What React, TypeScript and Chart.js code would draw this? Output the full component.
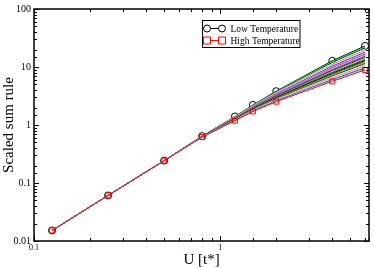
import React, { useEffect, useRef } from "react";
import { Chart, registerables } from "chart.js";

Chart.register(...registerables);

// Interaction strength U [t*]
const U = [0.125, 0.25, 0.5, 0.8, 1.2, 1.5, 2, 4, 6];
// values shared by every temperature (small U)
const sharedSmallU = [0.0152, 0.061, 0.243];
// values per temperature (index 0 = low temperature, last = high temperature)
const sumAtU08 = [0.643, 0.642, 0.641, 0.64, 0.639, 0.638, 0.637, 0.636, 0.635, 0.634, 0.633, 0.632, 0.631, 0.63, 0.629, 0.628, 0.627, 0.626, 0.625, 0.624, 0.623, 0.622, 0.621, 0.62];
const sumAtU12 = [1.4, 1.39, 1.38, 1.37, 1.36, 1.35, 1.34, 1.33, 1.32, 1.31, 1.3, 1.29, 1.28, 1.275, 1.265, 1.255, 1.245, 1.235, 1.225, 1.215, 1.21, 1.2, 1.195, 1.19];
const sumAtU15 = [2.22, 2.195, 2.17, 2.146, 2.122, 2.098, 2.074, 2.05, 2.027, 2.004, 1.982, 1.96, 1.937, 1.915, 1.894, 1.872, 1.851, 1.83, 1.81, 1.79, 1.77, 1.75, 1.73, 1.71];
const sumAtU2 = [3.83, 3.76, 3.69, 3.63, 3.56, 3.5, 3.44, 3.37, 3.31, 3.25, 3.2, 3.14, 3.08, 3.03, 2.97, 2.92, 2.87, 2.82, 2.77, 2.72, 2.67, 2.62, 2.58, 2.53];
const sumAtU4 = [12.8, 12.35, 11.92, 11.51, 11.11, 10.72, 10.34, 9.98, 9.64, 9.3, 8.97, 8.66, 8.36, 8.07, 7.79, 7.51, 7.25, 7.0, 6.75, 6.52, 6.29, 6.07, 5.86, 5.65];
const sumAtU6 = [23.1, 22.16, 21.26, 20.4, 19.57, 18.78, 18.01, 17.28, 16.58, 15.91, 15.26, 14.64, 14.05, 13.48, 12.93, 12.41, 11.9, 11.42, 10.96, 10.51, 10.08, 9.68, 9.28, 8.9];

const yTickLabels = ["0.01", "0.1", "1", "10", "100"];
const xTickLabels = ["0.1", "1"];
const legendLabels = ["Low Temperature", "High Temperature"];

const palette = [
  "#00ff00", "#0000ff", "#ffff00", "#bc8f8f", "#dcdcdc", "#9400d3", "#00ffff", "#ff00ff",
  "#ffa500", "#7221bc", "#670748", "#40e0d0", "#008b00", "#000000", "#ff0000",
];

const FONT = "'Liberation Serif', 'Times New Roman', serif";

function isDecade(v: number) {
  const l = Math.log10(v);
  return Math.abs(l - Math.round(l)) < 1e-6;
}

const ticksPlugin = {
  id: "insideTicks",
  afterDraw(chart: any) {
    const { ctx, chartArea: a } = chart;
    const xs = chart.scales.x;
    const ys = chart.scales.y;
    ctx.save();
    ctx.strokeStyle = "#000";
    ctx.lineWidth = 1;
    ctx.beginPath();
    xs.ticks.forEach((t: any) => {
      if (t.value > xs.max + 1e-9 || t.value < xs.min - 1e-9) return;
      const x = Math.round(xs.getPixelForValue(t.value)) + 0.5;
      const len = isDecade(t.value) ? 5 : 3;
      ctx.moveTo(x, a.bottom);
      ctx.lineTo(x, a.bottom - len);
      ctx.moveTo(x, a.top);
      ctx.lineTo(x, a.top + len);
    });
    ys.ticks.forEach((t: any) => {
      if (t.value > ys.max * 1.0001 || t.value < ys.min * 0.9999) return;
      const y = Math.round(ys.getPixelForValue(t.value)) + 0.5;
      const len = isDecade(t.value) ? 5 : 3;
      ctx.moveTo(a.left, y);
      ctx.lineTo(a.left + len, y);
      ctx.moveTo(a.right, y);
      ctx.lineTo(a.right - len, y);
    });
    ctx.stroke();
    ctx.lineWidth = 1.5;
    ctx.strokeRect(a.left, a.top, a.right - a.left, a.bottom - a.top);

    // legend box
    const bx = 202.5, by = 20.5, bw = 97.5, bh = 27;
    ctx.lineWidth = 1;
    ctx.fillStyle = "#fff";
    ctx.fillRect(bx, by, bw, bh);
    ctx.strokeStyle = "#000";
    ctx.strokeRect(bx, by, bw, bh);
    const rows = [
      { y: 28, color: "#000", shape: "circle", label: chart.data.datasets[0].label },
      { y: 40, color: "#ff0000", shape: "rect", label: chart.data.datasets[chart.data.datasets.length - 1].label },
    ];
    rows.forEach((r) => {
      ctx.strokeStyle = r.color;
      ctx.lineWidth = 1;
      ctx.beginPath();
      ctx.moveTo(207, r.y + 0.5);
      ctx.lineTo(222, r.y + 0.5);
      ctx.stroke();
      [207, 222].forEach((cx) => {
        ctx.beginPath();
        if (r.shape === "circle") {
          ctx.arc(cx, r.y + 0.5, 3.5, 0, Math.PI * 2);
        } else {
          ctx.rect(cx - 3.5, r.y - 3, 7, 7);
        }
        ctx.fillStyle = "#fff";
        ctx.fill();
        ctx.stroke();
      });
      ctx.fillStyle = "#000";
      ctx.font = `9.5px ${FONT}`;
      ctx.textAlign = "left";
      ctx.textBaseline = "middle";
      ctx.fillText(r.label, 230.5, r.y + 1);
    });
    ctx.restore();
  },
};

export default function App() {
  const ref = useRef<HTMLCanvasElement>(null);
  useEffect(() => {
    if (!ref.current) return;
    const n = sumAtU6.length;
    const datasets: any[] = [];
    for (let i = 0; i < n; i++) {
      const values = [...sharedSmallU, sumAtU08[i], sumAtU12[i], sumAtU15[i], sumAtU2[i], sumAtU4[i], sumAtU6[i]];
      const isLow = i === 0;
      const isHigh = i === n - 1;
      const color = isLow ? "#000000" : isHigh ? "#ff0000" : palette[(i - 1) % palette.length];
      datasets.push({
        label: isLow ? legendLabels[0] : isHigh ? legendLabels[1] : `T${i}`,
        data: U.map((u, k) => ({ x: u, y: values[k] })),
        order: n - i,
        borderColor: color,
        backgroundColor: "rgba(0,0,0,0)",
        borderWidth: 1,
        pointRadius: isLow || isHigh ? 3.5 : 0,
        pointStyle: isHigh ? "rect" : "circle",
        pointBorderColor: color,
        pointBackgroundColor: "rgba(0,0,0,0)",
        pointBorderWidth: 1,
        tension: 0,
      });
    }
    const chart = new Chart(ref.current, {
      type: "line",
      data: { datasets },
      options: {
        animation: false,
        responsive: false,
        maintainAspectRatio: false,
        layout: { padding: { top: 5, right: 2, left: 0, bottom: 0 } },
        plugins: { legend: { display: false }, tooltip: { enabled: false } },
        scales: {
          x: {
            type: "logarithmic",
            min: 0.1,
            max: 6.3,
            grid: { display: false, drawTicks: false },
            border: { display: false },
            afterFit: (s: any) => { s.height = 27; },
            ticks: {
              autoSkip: false,
              maxRotation: 0,
              padding: 2,
              color: "#000",
              font: { family: FONT, size: 8 },
              callback: (v: any) => {
                const lbl = xTickLabels.find((l) => Math.abs(parseFloat(l) - Number(v)) < 1e-9);
                return lbl ?? "";
              },
            },
            title: {
              display: true,
              text: "U [t*]",
              color: "#000",
              font: { family: FONT, size: 15 },
              padding: { top: 0, bottom: -1 },
            },
          },
          y: {
            type: "logarithmic",
            min: 0.01,
            max: 100,
            grid: { display: false, drawTicks: false },
            border: { display: false },
            afterFit: (s: any) => { s.width = 34; },
            ticks: {
              autoSkip: false,
              padding: 3,
              color: "#000",
              font: { family: FONT, size: 10 },
              callback: (v: any) => {
                const lbl = yTickLabels.find((l) => Math.abs(parseFloat(l) - Number(v)) < 1e-9 * Math.max(1, Number(v)));
                return lbl ?? "";
              },
            },
            title: {
              display: true,
              text: "Scaled sum rule",
              color: "#000",
              font: { family: FONT, size: 15 },
              padding: { top: 0, bottom: 0 },
            },
          },
        },
      },
      plugins: [ticksPlugin],
    });
    return () => chart.destroy();
  }, []);
  return (
    <div style={{ position: "fixed", left: 0, top: 0, width: 374, height: 268, background: "#fff" }}>
      <canvas ref={ref} width={374} height={268} style={{ display: "block" }} />
    </div>
  );
}
